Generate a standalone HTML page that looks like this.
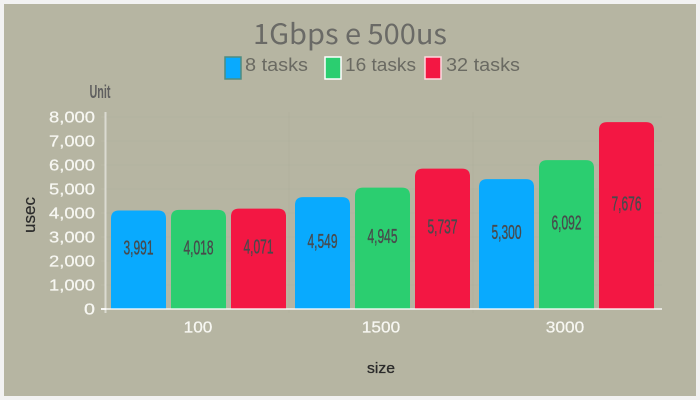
<!DOCTYPE html>
<html>
<head>
<meta charset="utf-8">
<style>
html,body{margin:0;padding:0;width:700px;height:400px;overflow:hidden;background:#f2f2f2}
svg{display:block;position:absolute;left:0;top:0}
</style>
</head>
<body>
<svg id="chart" width="700" height="400" viewBox="0 0 700 400" xmlns="http://www.w3.org/2000/svg">
  <rect x="4" y="4" width="692" height="392" fill="#b6b5a2"/>
  <text x="350" y="44" text-anchor="middle" textLength="194" lengthAdjust="spacingAndGlyphs" font-family="'Noto Sans CJK JP','Liberation Sans',sans-serif" font-size="28" fill="#6a6a66">1Gbps e 500us</text>
  <g>
    <g>
      <rect x="225" y="57" width="16" height="22" fill="#09aafe" stroke="#4f8c80" stroke-width="1.5"/>
      <text x="245" y="71" textLength="63" lengthAdjust="spacingAndGlyphs" font-family="'Liberation Sans',sans-serif" font-size="18" fill="#6a6a62">8 tasks</text>
    </g>
    <g>
      <rect x="325" y="57" width="16" height="22" fill="#2bce70" stroke="#ffffff" stroke-width="1.5"/>
      <text x="345" y="71" textLength="71" lengthAdjust="spacingAndGlyphs" font-family="'Liberation Sans',sans-serif" font-size="18" fill="#6a6a62">16 tasks</text>
    </g>
    <g>
      <rect x="425" y="57" width="16" height="22" fill="#f31743" stroke="#ffd8df" stroke-width="1.5"/>
      <text x="446" y="71" textLength="74" lengthAdjust="spacingAndGlyphs" font-family="'Liberation Sans',sans-serif" font-size="18" fill="#6a6a62">32 tasks</text>
    </g>
  </g>
  <text x="100" y="98" text-anchor="middle" textLength="21" lengthAdjust="spacingAndGlyphs" font-family="'Liberation Sans',sans-serif" font-weight="bold" font-size="18" fill="#5f5f5f">Unit</text>
  <text transform="translate(35,215) rotate(-90)" text-anchor="middle" textLength="36" lengthAdjust="spacingAndGlyphs" font-family="'Liberation Sans',sans-serif" font-size="17" fill="#2b2b2b" stroke="#2b2b2b" stroke-width="0.2">usec</text>
  <text x="381" y="373" text-anchor="middle" textLength="28" lengthAdjust="spacingAndGlyphs" font-family="'Liberation Sans',sans-serif" font-size="15" fill="#2b2b2b" stroke="#2b2b2b" stroke-width="0.3">size</text>
  <g id="grid"></g>
  <g id="bars"></g>
  <g id="axes"></g>
  <g id="labels"></g>
</svg>
<script>
const categories = ['100', '1500', '3000'];
const seriesNames = ['8 tasks', '16 tasks', '32 tasks'];
const tasks8 = [3991, 4549, 5300];
const tasks16 = [4018, 4945, 6092];
const tasks32 = [4071, 5737, 7676];
const yTicks = [0, 1000, 2000, 3000, 4000, 5000, 6000, 7000, 8000];

const NS = 'http://www.w3.org/2000/svg';
const series = [tasks8, tasks16, tasks32];
const colors = ['#09aafe', '#2bce70', '#f31743'];
const plotLeft = 105, plotRight = 657, baseY = 309;
const catW = (plotRight - plotLeft) / categories.length;
const barW = 55, barGap = 5, groupPad = 6;
const topLift = 2.7, radius = 8;

function yPos(v) { return baseY - v * 0.024; }
function catX(i) { return plotLeft + i * catW; }
function barX(i, s) { return catX(i) + groupPad + s * (barW + barGap); }
function fmt(v) { return v.toLocaleString('en-US'); }
function make(tag, attrs, parent) {
  const el = document.createElementNS(NS, tag);
  for (const k in attrs) el.setAttribute(k, attrs[k]);
  parent.appendChild(el);
  return el;
}

const grid = document.getElementById('grid');
const barsG = document.getElementById('bars');
const axes = document.getElementById('axes');
const labels = document.getElementById('labels');

yTicks.forEach(function (t) {
  const y = yPos(t);
  if (t > 0) {
    const g = make('line', {x1: plotLeft, x2: plotRight + 5, y1: y, y2: y, stroke: 'rgba(0,0,0,0.012)', 'stroke-width': 1}, grid);
    
    
  }
  const tk = make('line', {x1: 101, x2: 106, y1: y, y2: y, stroke: t === 0 ? 'rgba(255,255,255,0.7)' : 'rgba(255,255,255,0.06)', 'stroke-width': t === 0 ? 2 : 1}, axes);
  
  
  const lab = make('text', {x: 95, y: y + 5.7, 'text-anchor': 'end', textLength: t === 0 ? 11 : 46, lengthAdjust: 'spacingAndGlyphs', 'font-family': "'Liberation Sans',sans-serif", 'font-size': 16, fill: '#f7f7f2', stroke: '#f7f7f2', 'stroke-width': 0.25}, axes);
  
  
  lab.textContent = fmt(t);
});

categories.forEach(function (c, i) {
  if (i > 0) {
    const g = make('line', {x1: catX(i), x2: catX(i), y1: 112, y2: 313, stroke: 'rgba(0,0,0,0.018)', 'stroke-width': 1}, grid);
    
    
  }
  const lab = make('text', {x: catX(i) + catW / 2 + (i === 0 ? 1 : 0), y: 332.5, 'text-anchor': 'middle', textLength: c.length * 9.6, lengthAdjust: 'spacingAndGlyphs', 'font-family': "'Liberation Sans',sans-serif", 'font-size': 16, fill: '#f7f7f2', stroke: '#f7f7f2', 'stroke-width': 0.25}, axes);
  
  
  lab.textContent = c;

  series.forEach(function (vals, s) {
    const v = vals[i];
    const x = barX(i, s);
    const top = yPos(v) - topLift;
    const d = 'M' + x + ' ' + baseY + 'V' + (top + radius) +
      'Q' + x + ' ' + top + ' ' + (x + radius) + ' ' + top +
      'H' + (x + barW - radius) +
      'Q' + (x + barW) + ' ' + top + ' ' + (x + barW) + ' ' + (top + radius) +
      'V' + baseY + 'Z';
    const bar = make('path', {d: d, fill: colors[s]}, barsG);
    
    

    const t = make('text', {
      x: x + barW / 2,
      y: yPos(v) / 2 + 140.5 + 7.5,
      'text-anchor': 'middle',
      textLength: 30,
      lengthAdjust: 'spacingAndGlyphs',
      'font-family': "'Liberation Sans',sans-serif",
      'font-size': 20,
      fill: '#484a4c',
      stroke: '#484a4c',
      'stroke-width': 0.35
    }, labels);
    
    
    t.textContent = fmt(v);
  });
});

const yAxis = make('line', {x1: 105.5, x2: 105.5, y1: 112, y2: 313, stroke: 'rgba(255,255,255,0.5)', 'stroke-width': 2}, axes);


const xAxis = make('line', {x1: 101, x2: 662, y1: baseY, y2: baseY, stroke: 'rgba(255,255,255,0.65)', 'stroke-width': 2}, axes);


</script>
</body>
</html>
